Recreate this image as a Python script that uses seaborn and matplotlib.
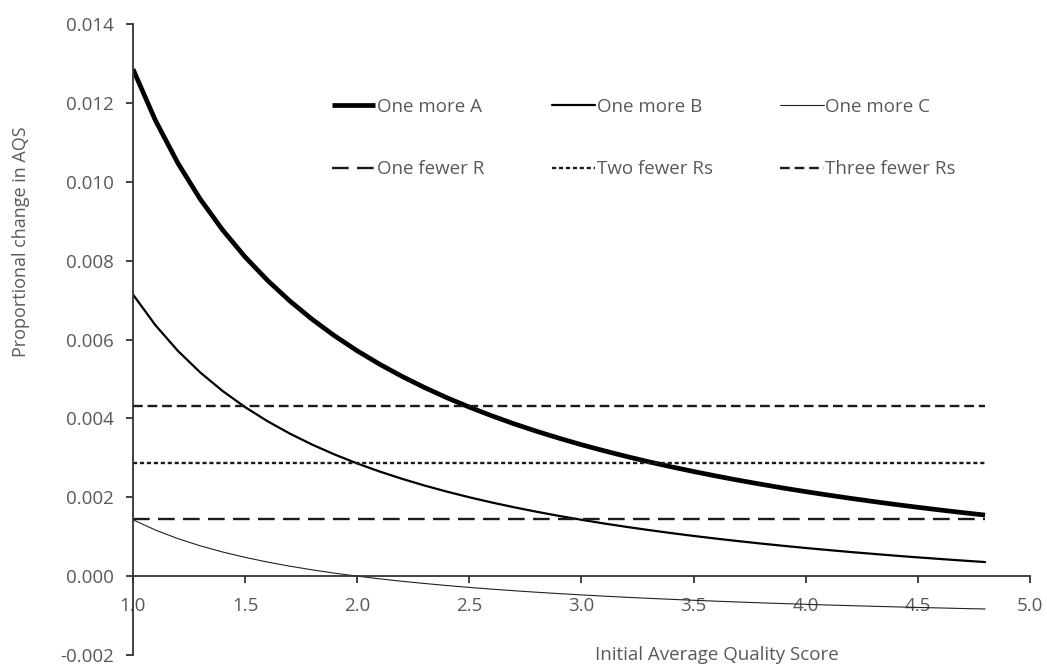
import numpy as np
import pandas as pd
import matplotlib
matplotlib.use("Agg")
import matplotlib.pyplot as plt
import seaborn as sns

# -------------------------
# DATA
# -------------------------
aqs = [1.0, 1.1, 1.2, 1.3, 1.4, 1.5, 1.6, 1.7, 1.8, 1.9,
       2.0, 2.1, 2.2, 2.3, 2.4, 2.5, 2.6, 2.7, 2.8, 2.9,
       3.0, 3.1, 3.2, 3.3, 3.4, 3.5, 3.6, 3.7, 3.8, 3.9,
       4.0, 4.1, 4.2, 4.3, 4.4, 4.5, 4.6, 4.7, 4.8]

one_more_a = [0.012857, 0.011558, 0.010476, 0.009560, 0.008776, 0.008095, 0.007500, 0.006975, 0.006508, 0.006090,
              0.005714, 0.005374, 0.005065, 0.004783, 0.004524, 0.004286, 0.004066, 0.003862, 0.003673, 0.003498,
              0.003333, 0.003180, 0.003036, 0.002900, 0.002773, 0.002653, 0.002540, 0.002432, 0.002331, 0.002234,
              0.002143, 0.002056, 0.001973, 0.001894, 0.001818, 0.001746, 0.001677, 0.001611, 0.001548]

one_more_b = [0.007143, 0.006364, 0.005714, 0.005165, 0.004694, 0.004286, 0.003929, 0.003613, 0.003333, 0.003083,
              0.002857, 0.002653, 0.002468, 0.002298, 0.002143, 0.002000, 0.001868, 0.001746, 0.001633, 0.001527,
              0.001429, 0.001336, 0.001250, 0.001169, 0.001092, 0.001020, 0.000952, 0.000888, 0.000827, 0.000769,
              0.000714, 0.000662, 0.000612, 0.000565, 0.000519, 0.000476, 0.000435, 0.000395, 0.000357]

one_more_c = [0.001429, 0.001169, 0.000952, 0.000769, 0.000612, 0.000476, 0.000357, 0.000252, 0.000159, 0.000075,
              0.000000, -0.000068, -0.000130, -0.000186, -0.000238, -0.000286, -0.000330, -0.000370, -0.000408, -0.000443,
              -0.000476, -0.000507, -0.000536, -0.000563, -0.000588, -0.000612, -0.000635, -0.000656, -0.000677, -0.000696,
              -0.000714, -0.000732, -0.000748, -0.000764, -0.000779, -0.000794, -0.000807, -0.000821, -0.000833]

r_span = [1.0, 4.8]
one_fewer_r = [0.00144, 0.00144]
two_fewer_rs = [0.00288, 0.00288]
three_fewer_rs = [0.00432, 0.00432]

x_ticks = [1.0, 1.5, 2.0, 2.5, 3.0, 3.5, 4.0, 4.5, 5.0]
y_ticks = [-0.002, 0.000, 0.002, 0.004, 0.006, 0.008, 0.010, 0.012, 0.014]

# -------------------------
# STYLE
# -------------------------
sns.set_style("white")
plt.rcParams["font.family"] = ["Open Sans", "DejaVu Sans"]
plt.rcParams["lines.scale_dashes"] = False
text_col = "#595959"
axis_col = "#333333"
fs = 13.5

fig = plt.figure(figsize=(10.47, 6.66), dpi=100)
ax = fig.add_axes([0.127, 0.0165, 0.8567, 0.9474])

# curves
curves = pd.DataFrame({"x": aqs, "A": one_more_a, "B": one_more_b, "C": one_more_c})
sns.lineplot(data=curves, x="x", y="A", ax=ax, color="black", lw=3.4,
             label="One more A", solid_capstyle="butt")
sns.lineplot(data=curves, x="x", y="B", ax=ax, color="black", lw=1.6,
             label="One more B")
sns.lineplot(data=curves, x="x", y="C", ax=ax, color="#222222", lw=0.8,
             label="One more C")

# horizontal R lines
sns.lineplot(x=r_span, y=one_fewer_r, ax=ax, color="#1a1a1a", lw=1.7,
             linestyle=(0, (12, 6)), label="One fewer R")
sns.lineplot(x=r_span, y=two_fewer_rs, ax=ax, color="#1a1a1a", lw=1.7,
             linestyle=(0, (3, 2)), label="Two fewer Rs")
sns.lineplot(x=r_span, y=three_fewer_rs, ax=ax, color="#1a1a1a", lw=1.7,
             linestyle=(0, (7, 3.5)), label="Three fewer Rs")

# -------------------------
# AXES
# -------------------------
ax.set_xlim(1.0, 5.0)
ax.set_ylim(-0.002, 0.014)
ax.set_xticks(x_ticks)
ax.set_yticks(y_ticks)
ax.set_xticklabels([f"{v:.1f}" for v in x_ticks])
ax.set_yticklabels([f"{v:.3f}" for v in y_ticks])

ax.spines["top"].set_visible(False)
ax.spines["right"].set_visible(False)
ax.spines["bottom"].set_position(("data", 0))
for s in ["left", "bottom"]:
    ax.spines[s].set_color(axis_col)
    ax.spines[s].set_linewidth(1.3)

ax.tick_params(axis="both", direction="out", length=5, width=1.3,
               color=axis_col, labelcolor=text_col, labelsize=fs)
ax.tick_params(axis="y", pad=9, left=True)
ax.tick_params(axis="x", pad=10, bottom=True)

ax.set_xlabel("Initial Average Quality Score", fontsize=fs, color=text_col)
ax.xaxis.set_label_coords(0.651, 0.0)
ax.xaxis.label.set_va("center")
ax.set_ylabel("Proportional change in AQS", fontsize=13, color=text_col)
ax.yaxis.set_label_coords(-0.125, 0.655)
ax.yaxis.label.set_va("center")

# legend (row-wise order for 3 columns)
handles, labels = ax.get_legend_handles_labels()
order = [0, 3, 1, 4, 2, 5]
leg = ax.legend([handles[i] for i in order], [labels[i] for i in order],
                ncol=3, frameon=False, fontsize=fs, loc="upper left",
                bbox_to_anchor=(332 / 1047, 1 - 98 / 666), bbox_transform=fig.transFigure,
                borderpad=0, borderaxespad=0, handlelength=2.3, handletextpad=0.1,
                labelspacing=2.35, columnspacing=3.6)
for t in leg.get_texts():
    t.set_color(text_col)

fig.savefig("out.png", dpi=100)
